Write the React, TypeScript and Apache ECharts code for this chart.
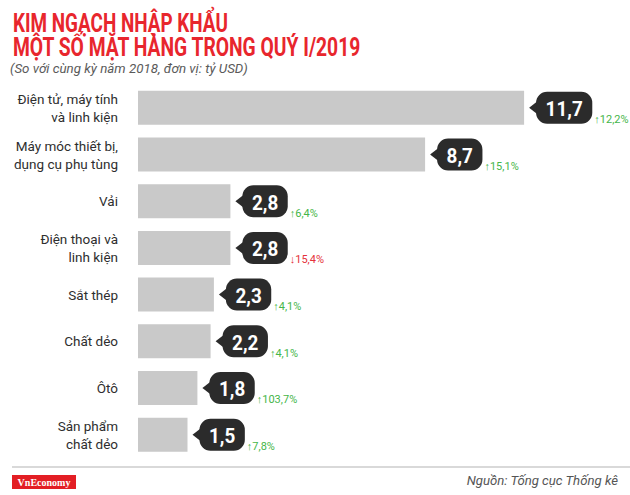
import React, { useEffect, useRef } from "react";
import * as echarts from "echarts";

const categories = [
  "Điện tử, máy tính\nvà linh kiện",
  "Máy móc thiết bị,\ndụng cụ phụ tùng",
  "Vải",
  "Điện thoại và\nlinh kiện",
  "Sắt thép",
  "Chất dẻo",
  "Ôtô",
  "Sản phẩm\nchất dẻo",
];
const values = [11.7, 8.7, 2.8, 2.8, 2.3, 2.2, 1.8, 1.5];
const changes = [12.2, 15.1, 6.4, -15.4, 4.1, 4.1, 103.7, 7.8];

const titleLines = ["KIM NGẠCH NHẬP KHẨU", "MỘT SỐ MẶT HÀNG TRONG QUÝ I/2019"];
const subtitle = "(So với cùng kỳ năm 2018, đơn vị: tỷ USD)";
const sourceText = "Nguồn: Tống cục Thống kê";
const brand = "VnEconomy";

const fmt = (v: number) => Math.abs(v).toFixed(1).replace(".", ",");

let ctx: CanvasRenderingContext2D | null = null;
function measure(text: string, font: string): number {
  if (!ctx) ctx = document.createElement("canvas").getContext("2d");
  if (!ctx) return text.length * 10;
  ctx.font = font;
  return ctx.measureText(text).width;
}

export default function App() {
  const ref = useRef<HTMLDivElement>(null);
  useEffect(() => {
    document.body.style.margin = "0";
    const chart = echarts.init(ref.current!, null, { renderer: "svg" });
    const titleFont = "bold 25px Roboto";
    const t1 = measure(titleLines[0], titleFont);
    const t2 = measure(titleLines[1], titleFont);
    const subFont = "italic 13px Roboto";
    const sw = measure(subtitle, subFont);
    const srcFont = "italic 13px Roboto";
    const srw = measure(sourceText, srcFont);

    const option: any = {
      animation: false,
      backgroundColor: "#ffffff",
      grid: { left: 138, top: 84.5, right: 30, bottom: 37, containLabel: false },
      xAxis: { type: "value", min: 0, max: 14, show: false },
      yAxis: {
        type: "category",
        data: categories,
        inverse: true,
        axisLine: { show: false },
        axisTick: { show: false },
        splitLine: { show: false },
        axisLabel: {
          fontSize: 13.5,
          color: "#2e2e2e",
          lineHeight: 18,
          margin: 20,
          fontFamily: "Roboto",
        },
      },
      series: [
        {
          type: "bar",
          data: values,
          barWidth: 34,
          itemStyle: { color: "#c9c9c9" },
          silent: true,
        },
        {
          type: "custom",
          data: values.map((v, i) => [v, i]),
          encode: { x: 0, y: 1 },
          silent: true,
          renderItem: (params: any, api: any) => {
            const i = params.dataIndex;
            const p = api.coord([api.value(0), api.value(1)]);
            const x = p[0];
            const y = p[1];
            const label = fmt(values[i]);
            const valFont = "bold 21px Roboto";
            const tw = measure(label, valFont);
            const w = tw * 0.9 + 19;
            const bx = x + 12;
            const ch = changes[i];
            const up = ch >= 0;
            const chText = (up ? "↑" : "↓") + fmt(ch) + "%";
            return {
              type: "group",
              children: [
                {
                  type: "polygon",
                  shape: { points: [[x + 5, y], [bx + 2, y - 7], [bx + 2, y + 7]] },
                  style: { fill: "#2b2b2b" },
                },
                {
                  type: "rect",
                  shape: { x: bx, y: y - 16, width: w, height: 32, r: 11 },
                  style: { fill: "#2b2b2b" },
                },
                {
                  type: "text",
                  x: bx + w / 2,
                  y: y + 1,
                  scaleX: 0.9,
                  style: {
                    x: 0,
                    y: 0,
                    text: label,
                    fill: "#ffffff",
                    font: valFont,
                    align: "center",
                    verticalAlign: "middle",
                    textAlign: "center",
                    textVerticalAlign: "middle",
                  },
                },
                {
                  type: "text",
                  style: {
                    x: bx + w + 2,
                    y: y + 12,
                    text: chText,
                    fill: up ? "#45b649" : "#e5323b",
                    font: "11px Roboto",
                    align: "left",
                    verticalAlign: "middle",
                    textAlign: "left",
                    textVerticalAlign: "middle",
                  },
                },
              ],
            };
          },
        },
      ],
      graphic: [
        {
          type: "text",
          x: 13,
          y: 22.5,
          scaleX: 215 / t1,
          style: {
            text: titleLines[0],
            font: titleFont,
            fill: "#e8262d",
            textAlign: "left",
            textVerticalAlign: "middle",
          },
        },
        {
          type: "text",
          x: 13,
          y: 47,
          scaleX: 349 / t2,
          style: {
            text: titleLines[1],
            font: titleFont,
            fill: "#e8262d",
            textAlign: "left",
            textVerticalAlign: "middle",
          },
        },
        {
          type: "text",
          x: 10,
          y: 69,
          scaleX: 238 / sw,
          style: {
            text: subtitle,
            font: subFont,
            fill: "#5a5a5a",
            textAlign: "left",
            textVerticalAlign: "middle",
          },
        },
        {
          type: "line",
          shape: { x1: 12, y1: 467, x2: 630, y2: 467 },
          style: { stroke: "#cccccc", lineWidth: 1.5 },
        },
        {
          type: "rect",
          shape: { x: 12, y: 475, width: 64, height: 14 },
          style: { fill: "#e31e24" },
        },
        {
          type: "text",
          x: 44,
          y: 482,
          style: {
            text: brand,
            font: "bold 10px 'Liberation Serif'",
            fill: "#ffffff",
            textAlign: "center",
            textVerticalAlign: "middle",
          },
        },
        {
          type: "text",
          x: 618,
          y: 481,
          scaleX: 152 / srw,
          style: {
            text: sourceText,
            font: srcFont,
            fill: "#555555",
            textAlign: "right",
            textVerticalAlign: "middle",
          },
        },
      ],
    };
    chart.setOption(option);
    return () => chart.dispose();
  }, []);
  return (
    <div
      ref={ref}
      style={{ position: "fixed", left: 0, top: 0, width: 630, height: 495 }}
    />
  );
}
